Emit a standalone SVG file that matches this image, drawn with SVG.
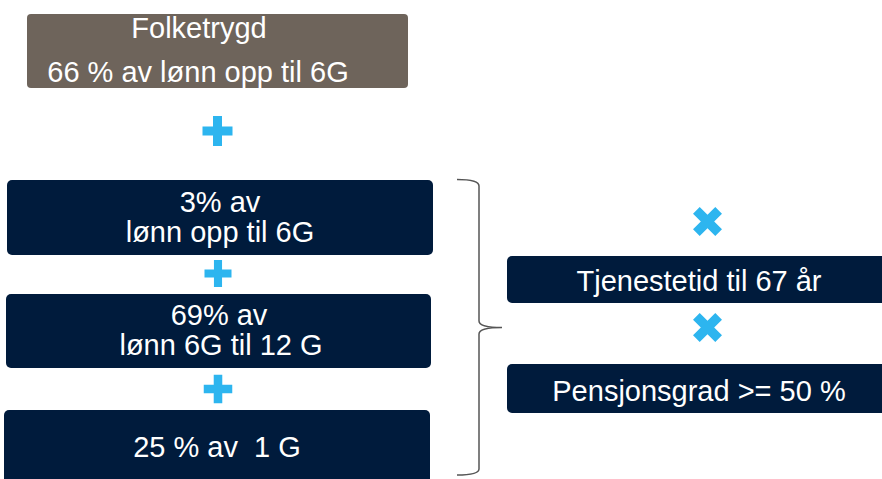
<svg xmlns="http://www.w3.org/2000/svg" width="882" height="479" viewBox="0 0 882 479">
<style>
.t{font-family:"Liberation Sans",Arial,sans-serif;font-size:29px;fill:#ffffff;text-anchor:middle;white-space:pre}
.navy{fill:#001b3c}
.sym{fill:#2db5ef}
</style>
<defs>
<path id="plus" d="M-4.5,-15 H4.5 V-4.5 H15 V4.5 H4.5 V15 H-4.5 V4.5 H-15 V-4.5 H-4.5 Z"/>
</defs>
<rect width="882" height="479" fill="#ffffff"/>
<g id="folketrygd">
<rect x="27" y="14" width="381" height="74" rx="4" fill="#6e645b"/>
<text class="t" x="199" y="38">Folketrygd</text>
<text class="t" x="198" y="82">66 % av lønn opp til 6G</text>
</g>
<g id="plus1"><use href="#plus" class="sym" transform="translate(217.5,131)"/></g>
<g id="box1">
<rect class="navy" x="7" y="180" width="426" height="75" rx="5"/>
<text class="t" x="220" y="212">3% av</text>
<text class="t" x="220" y="242">lønn opp til 6G</text>
</g>
<g id="plus2"><use href="#plus" class="sym" transform="translate(218,273.5) scale(0.9)"/></g>
<g id="box2">
<rect class="navy" x="6" y="294" width="425" height="74" rx="5"/>
<text class="t" x="219" y="325">69% av</text>
<text class="t" x="221" y="355">lønn 6G til 12 G</text>
</g>
<g id="plus3"><use href="#plus" class="sym" transform="translate(218,389) scale(0.95)"/></g>
<g id="box3">
<rect class="navy" x="4" y="410" width="426" height="80" rx="5"/>
<text class="t" x="217" y="457">25 % av  1 G</text>
</g>
<g id="connectors">
<path d="M457,179.5 Q479,179.5 479,186 L479,321 Q479,327.5 502,327.5 Q479,327.5 479,334 L479,469 Q479,475 457,475" fill="none" stroke="#555555" stroke-width="1.5"/>
</g>
<g id="times1"><use href="#plus" class="sym" transform="translate(707.5,221.5) rotate(45) scale(1.05)"/></g>
<g id="tjenestetid">
<rect class="navy" x="507" y="256" width="385" height="47" rx="5"/>
<text class="t" x="699" y="291">Tjenestetid til 67 år</text>
</g>
<g id="times2"><use href="#plus" class="sym" transform="translate(707.5,327.5) rotate(45) scale(1.05)"/></g>
<g id="pensjonsgrad">
<rect class="navy" x="507" y="364" width="385" height="49" rx="5"/>
<text class="t" x="699" y="401">Pensjonsgrad &gt;= 50 %</text>
</g>
</svg>
